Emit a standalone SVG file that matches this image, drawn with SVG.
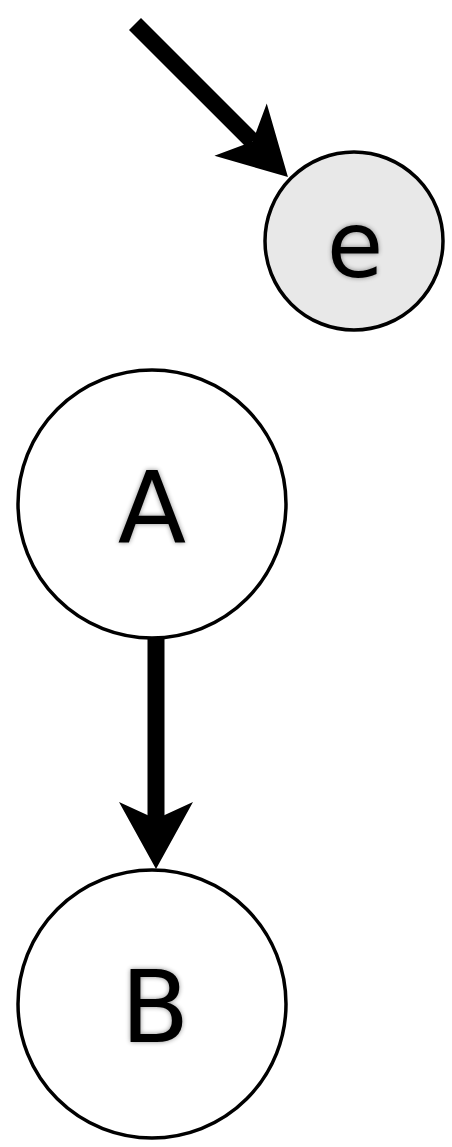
<svg xmlns="http://www.w3.org/2000/svg" width="452" height="1147" viewBox="0 0 452 1147">
  <style>
    .node { stroke: #000; stroke-width: 3.5; }
    .label { font-family: "DejaVu Sans", "Liberation Sans", sans-serif; font-size: 100px; fill: #000; text-anchor: middle; filter: url(#soft); }
    .edge { stroke: #000; stroke-width: 17; fill: none; marker-end: url(#head); }
  </style>
  <defs>
    <marker id="head" markerUnits="userSpaceOnUse" viewBox="0 -37 67 74" markerWidth="67" markerHeight="74" refX="17" refY="0" orient="auto" overflow="visible">
      <path d="M0,-37 L67,0 L0,37 L17,0 Z" fill="#000"/>
    </marker>
    <filter id="soft" x="-20%" y="-20%" width="140%" height="140%">
      <feGaussianBlur in="SourceAlpha" stdDeviation="2.5" result="b"/>
      <feComponentTransfer in="b" result="s"><feFuncA type="linear" slope="0.45"/></feComponentTransfer>
      <feMerge><feMergeNode in="s"/><feMergeNode in="SourceGraphic"/></feMerge>
    </filter>
  </defs>
  <rect width="452" height="1147" fill="#fff"/>
  <g id="connectors">
    <line class="edge" x1="135" y1="24" x2="252.6" y2="141.6"/>
    <line class="edge" x1="156" y1="637" x2="156" y2="819"/>
  </g>
  <g id="node-e">
    <circle class="node" cx="354" cy="241" r="89" fill="#e8e8e8"/>
    <text class="label" x="355" y="277" style="font-size:92px">e</text>
  </g>
  <g id="node-A">
    <circle class="node" cx="152" cy="504" r="134" fill="#fff"/>
    <text class="label" x="152" y="543">A</text>
  </g>
  <g id="node-B">
    <circle class="node" cx="152" cy="1004" r="134" fill="#fff"/>
    <text class="label" x="155" y="1042">B</text>
  </g>
</svg>
